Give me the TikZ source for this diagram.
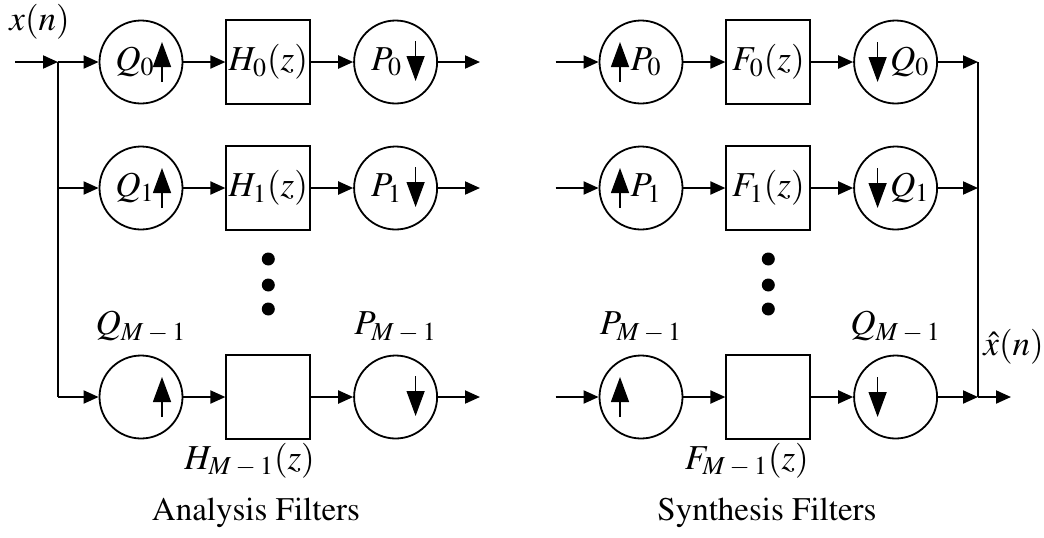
\documentclass[tikz,border=0pt]{standalone}
\usepackage[T1]{fontenc}
\usepackage{mathptmx}
\usetikzlibrary{arrows.meta,positioning}
\newcommand{\Mone}{M\mskip3mu-\mskip3mu1}

\begin{document}
\begin{tikzpicture}[x=0.5pt,y=-0.5pt,
          >={Triangle[length=7.5pt,width=6.5pt]},
          every node/.style={font=\fontsize{17.5}{21}\selectfont},
          samp/.style={circle,draw,line width=0.9pt,minimum size=41.5pt,inner sep=0pt},
          filt/.style={draw,line width=0.9pt,minimum size=42pt,inner sep=0pt},
          arr/.style={->,line width=1pt},
          wire/.style={line width=1pt},
          rate/.style={line width=0.7pt,-{Triangle[length=12.5pt,width=9pt]}},
          lab/.style={inner sep=1pt},
          banktitle/.style={font=\fontsize{16.5}{20}\selectfont},
          dot/.style={circle,fill,inner sep=0pt,minimum size=6.5pt}]
        \useasboundingbox (0,0) rectangle (1044,537);
        % analysis bank
        \node[samp] (q0) at (141,62) {};
        \node[filt,right=21pt of q0] (h0) {$H_0(z)$};
        \node[samp,right=21pt of h0] (p0) {};
        \node[samp] (q1) at (141,188) {};
        \node[filt,right=21pt of q1] (h1) {$H_1(z)$};
        \node[samp,right=21pt of h1] (p1) {};
        \node[samp] (qm) at (141,397) {};
        \node[filt,right=21pt of qm] (hm) {};
        \node[samp,right=21pt of hm] (pm) {};
        \coordinate (xin) at (15,62);
        \coordinate (split) at (58,62);
        \coordinate (s1) at (split |- q1);
        \coordinate (bend) at (split |- qm);
        \coordinate[right=21pt of p0] (y0);
        \coordinate[right=21pt of p1] (y1);
        \coordinate[right=21pt of pm] (ym);
        \node[lab,above right=10pt and -4pt of xin] (xlab) {$x(n)$};
        \draw[arr] (xin) -- (split);
        \draw[wire] (split) -- (bend);
        \draw[arr] (split) -- (q0);
        \draw[arr] (s1) -- (q1);
        \draw[arr] (bend) -- (qm);
        \draw[arr] (q0) -- (h0);
        \draw[arr] (h0) -- (p0);
        \draw[arr] (p0) -- (y0);
        \draw[arr] (q1) -- (h1);
        \draw[arr] (h1) -- (p1);
        \draw[arr] (p1) -- (y1);
        \draw[arr] (qm) -- (hm);
        \draw[arr] (hm) -- (pm);
        \draw[arr] (pm) -- (ym);
        \node[lab] (tq0) at ([xshift=-3pt]q0.center) {$Q_0$};
        \node[lab] (tq1) at ([xshift=-3pt]q1.center) {$Q_1$};
        \node[lab] (tp0) at ([xshift=-4.5pt]p0.center) {$P_0$};
        \node[lab] (tp1) at ([xshift=-4.5pt]p1.center) {$P_1$};
        \node[lab,above=5pt of qm] (tqm) {$Q_{\Mone}$};
        \node[lab,above=5pt of pm] (tpm) {$P_{\Mone}$};
        \node[lab,below left=0.5pt and -3pt of hm.south east] (thm) {$H_{\Mone}(z)$};
        \foreach \c in {q0,q1,qm}
          \draw[rate] ([xshift=10.5pt,yshift=-10pt]\c.center) -- ++(0,20pt);
        \foreach \c in {p0,p1,pm}
          \draw[rate] ([xshift=10pt,yshift=10.5pt]\c.center) -- ++(0,-20pt);
        % synthesis bank
        \node[samp] (r0) at (641,62) {};
        \node[filt,right=21pt of r0] (f0) {$F_0(z)$};
        \node[samp,right=21pt of f0] (d0) {};
        \node[samp] (r1) at (641,188) {};
        \node[filt,right=21pt of r1] (f1) {$F_1(z)$};
        \node[samp,right=21pt of f1] (d1) {};
        \node[samp] (rm) at (641,397) {};
        \node[filt,right=21pt of rm] (fm) {};
        \node[samp,right=21pt of fm] (dm) {};
        \coordinate[left=21.5pt of r0] (u0);
        \coordinate[left=21.5pt of r1] (u1);
        \coordinate[left=21.5pt of rm] (um);
        \coordinate[right=20pt of d0] (j0);
        \coordinate[right=20pt of d1] (j1);
        \coordinate[right=20pt of dm] (jm);
        \coordinate[right=16.5pt of jm] (xout);
        \draw[arr] (u0) -- (r0);
        \draw[arr] (u1) -- (r1);
        \draw[arr] (um) -- (rm);
        \draw[arr] (r0) -- (f0);
        \draw[arr] (f0) -- (d0);
        \draw[arr] (d0) -- (j0);
        \draw[arr] (r1) -- (f1);
        \draw[arr] (f1) -- (d1);
        \draw[arr] (d1) -- (j1);
        \draw[arr] (rm) -- (fm);
        \draw[arr] (fm) -- (dm);
        \draw[arr] (dm) -- (jm);
        \draw[wire] (j0) -- (jm);
        \draw[arr] (jm) -- (xout);
        \node[lab,above right=15pt and 1.5pt of jm] (xhat) {$\hat{x}(n)$};
        \node[lab] (tr0) at ([xshift=2.5pt]r0.center) {$P_0$};
        \node[lab] (tr1) at ([xshift=2.5pt]r1.center) {$P_1$};
        \node[lab] (td0) at ([xshift=7pt]d0.center) {$Q_0$};
        \node[lab] (td1) at ([xshift=7pt]d1.center) {$Q_1$};
        \node[lab,above=5pt of rm] (trm) {$P_{\Mone}$};
        \node[lab,above=5pt of dm] (tdm) {$Q_{\Mone}$};
        \node[lab,below left=0.5pt and 0pt of fm.south east] (tfm) {$F_{\Mone}(z)$};
        \foreach \c in {r0,r1,rm}
          \draw[rate] ([xshift=-10.5pt,yshift=-10pt]\c.center) -- ++(0,20pt);
        \foreach \c in {d0,d1,dm}
          \draw[rate] ([xshift=-9pt,yshift=10pt]\c.center) -- ++(0,-20pt);
        % dots between the rows
        \foreach \y [count=\k] in {259,285,309} {
          \node[dot] (dl\k) at (h1 |- 0,\y) {};
          \node[dot] (dr\k) at (f1 |- 0,\y) {};
        }
        \node[banktitle] (cap1) at (256,513) {Analysis Filters};
        \node[banktitle] (cap2) at (767,513) {Synthesis Filters};
      \end{tikzpicture}
\end{document}
